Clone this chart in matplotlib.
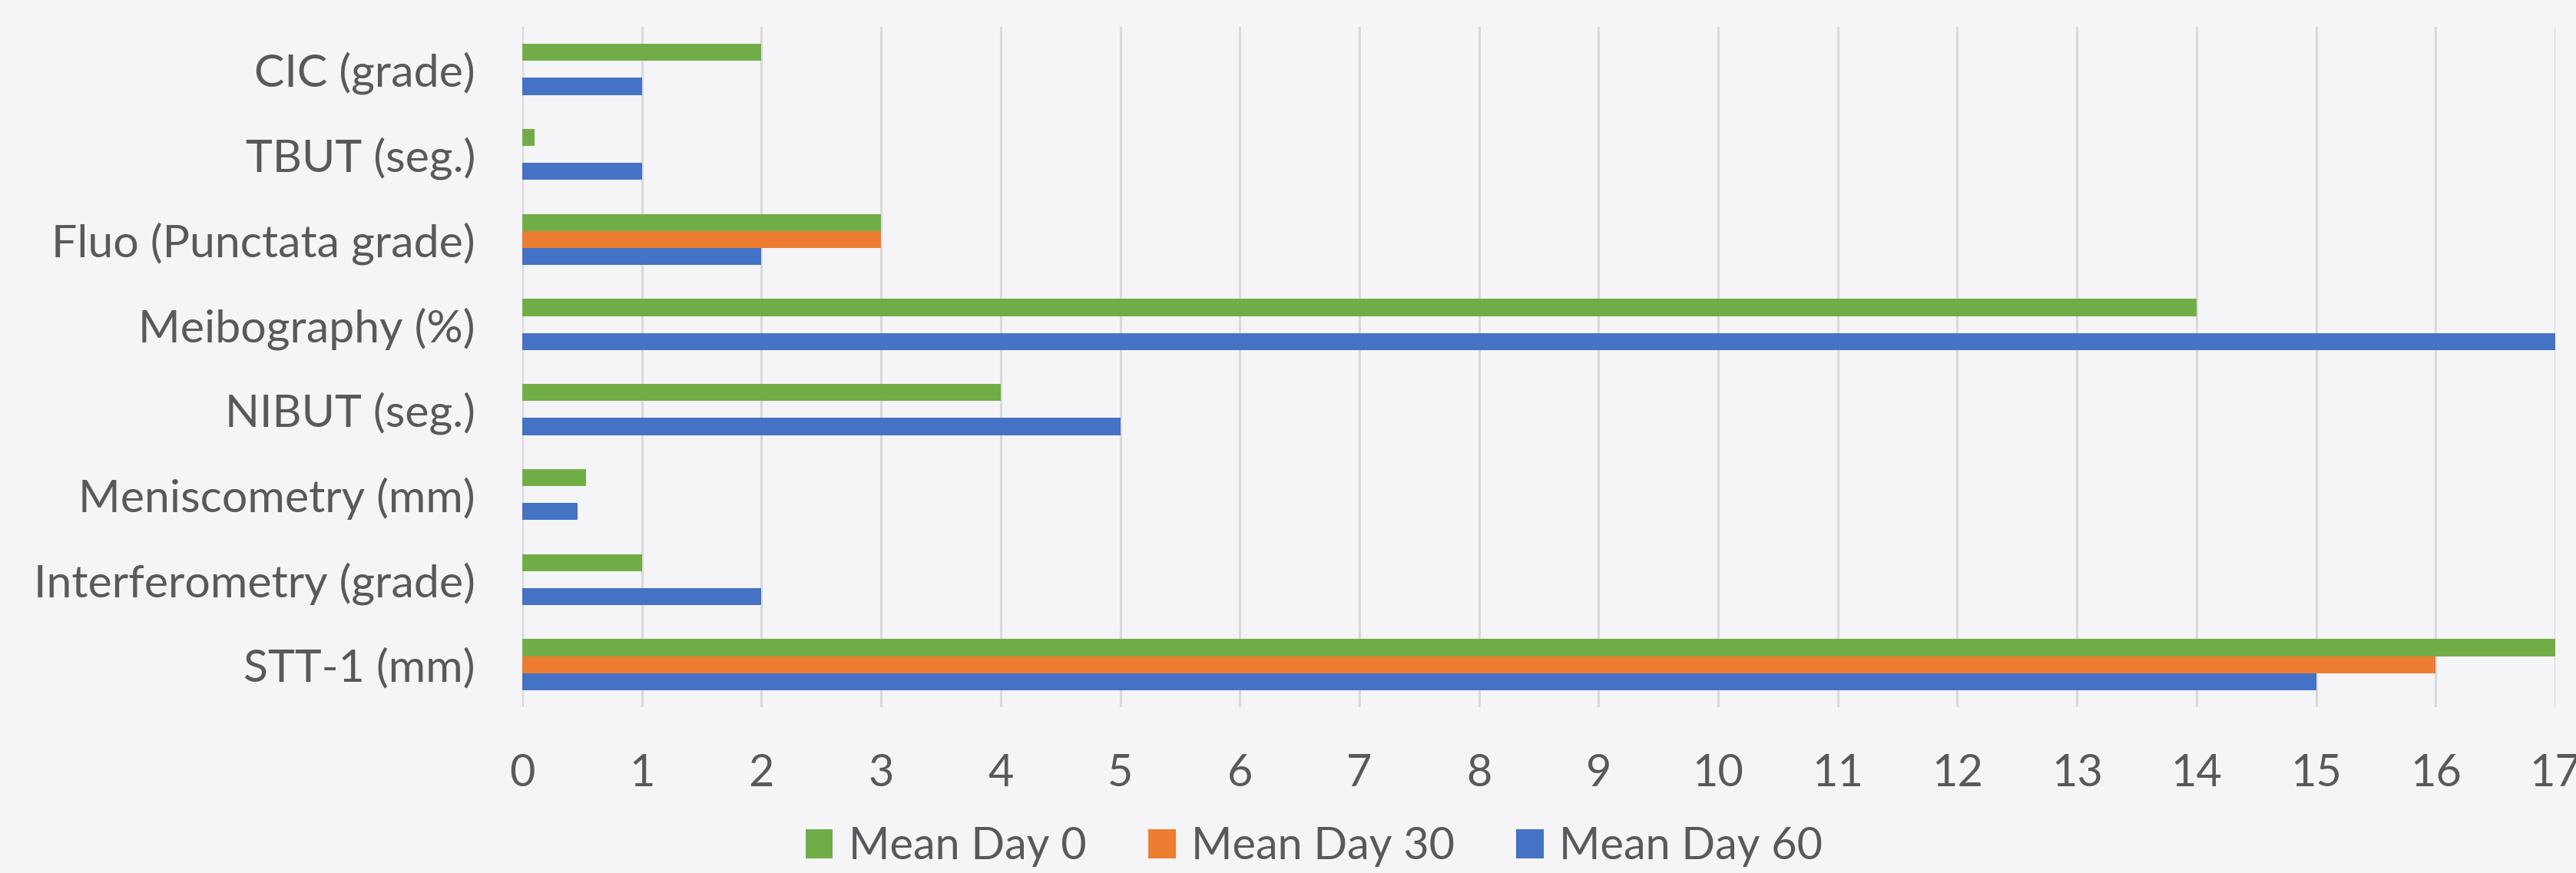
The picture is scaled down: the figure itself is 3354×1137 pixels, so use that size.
import matplotlib
matplotlib.use("Agg")
import matplotlib.pyplot as plt
import numpy as np

categories = ["CIC (grade)", "TBUT (seg.)", "Fluo (Punctata grade)", "Meibography (%)",
              "NIBUT (seg.)", "Meniscometry (mm)", "Interferometry (grade)", "STT-1 (mm)"]
day0 = [2, 0.1, 3, 14, 4, 0.53, 1, 17]
day30 = [0, 0, 3, 0, 0, 0, 0, 16]
day60 = [1, 1, 2, 17, 5, 0.46, 2, 15]
series_names = ["Mean Day 0", "Mean Day 30", "Mean Day 60"]
colors = ["#70AD47", "#ED7D31", "#4472C4"]
xticks = list(range(0, 18))

bg = "#F5F4F7"
txt = "#595959"
plt.rcParams['font.family'] = ['Lato', 'DejaVu Sans']

fig = plt.figure(figsize=(33.55, 11.37), dpi=100, facecolor=bg)
ax = fig.add_axes([680/3355, 1-921/1137, (3327-680)/3355, (921-35)/1137])
ax.set_facecolor(bg)

y = np.arange(len(categories))[::-1]
h = 0.2
for vals, off, c, name in zip([day0, day30, day60], [h, 0, -h], colors, series_names):
    ax.barh(y + off, vals, height=h, color=c, label=name, zorder=3)

ax.set_ylim(-0.5, len(categories) - 0.5)
ax.set_xlim(0, 17)
ax.set_xticks(xticks)
ax.set_yticks(y)
ax.set_yticklabels(categories)
ax.tick_params(axis='both', length=0, colors=txt)
ax.tick_params(axis='y', pad=44, labelsize=42.5)
ax.tick_params(axis='x', pad=43, labelsize=41.5)
ax.xaxis.grid(True, color="#D9D9D9", linewidth=2.2, zorder=0)
ax.set_axisbelow(True)
for s in ax.spines.values():
    s.set_visible(False)

leg = fig.legend(loc='center', bbox_to_anchor=(1711/3355, 0.03), ncol=3, frameon=False,
                 fontsize=41.5, handlelength=0.62, handleheight=0.62, handletextpad=0.35,
                 columnspacing=1.4, labelcolor=txt)

fig.savefig("out.png", dpi=100, facecolor=bg)
